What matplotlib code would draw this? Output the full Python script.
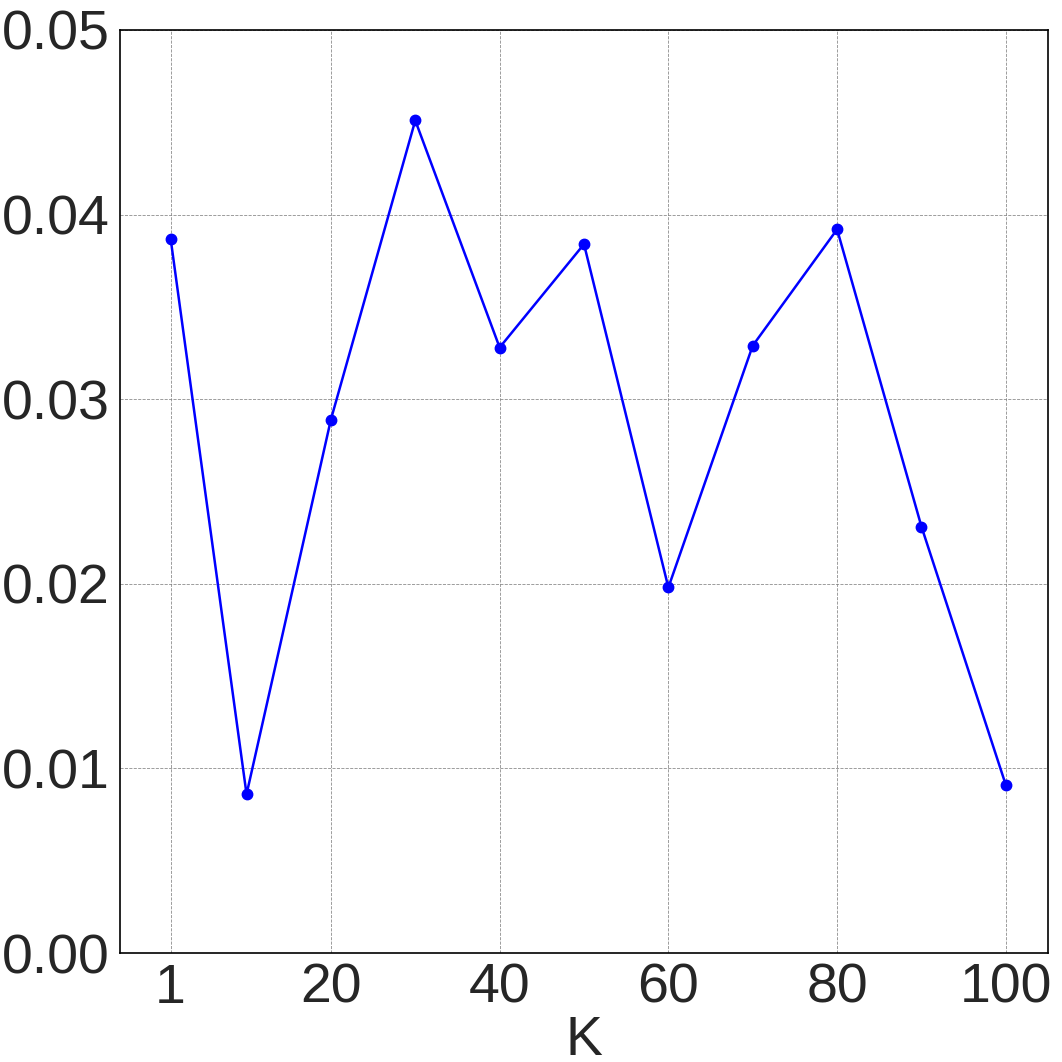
import matplotlib
matplotlib.use("Agg")
import matplotlib.pyplot as plt

K = [1, 10, 20, 30, 40, 50, 60, 70, 80, 90, 100]
values = [0.0387, 0.0086, 0.0289, 0.0451, 0.0328, 0.0384, 0.0198, 0.0329, 0.0392, 0.0231, 0.0091]
xticks = [1, 20, 40, 60, 80, 100]
yticks = [0.00, 0.01, 0.02, 0.03, 0.04, 0.05]

plt.rcParams['font.family'] = ['Liberation Sans', 'DejaVu Sans']
fig = plt.figure(figsize=(10.62, 10.62), dpi=100)
ax = fig.add_axes([120/1062, 1 - 953/1062, (1048-120)/1062, (953-30)/1062])
ax.plot(K, values, color='blue', linewidth=1.8, marker='o', markersize=7.5)
ax.set_xticks(xticks)
ax.set_yticks(yticks)
ax.set_yticklabels([f"{v:.2f}" for v in yticks])
ax.set_ylim(0, 0.05)
ax.set_xlim(-5, 105)
ax.grid(True, color='gray', linestyle='--', linewidth=0.6, alpha=0.9)
ax.tick_params(axis='both', length=0, labelsize=40, labelcolor='#262626')
ax.tick_params(axis='x', pad=7)
ax.tick_params(axis='y', pad=7.5)
for s in ax.spines.values():
    s.set_color('black')
    s.set_linewidth(1.2)
ax.set_xlabel('K', fontsize=40, color='#262626', labelpad=0)
fig.savefig('out.png', dpi=100)
